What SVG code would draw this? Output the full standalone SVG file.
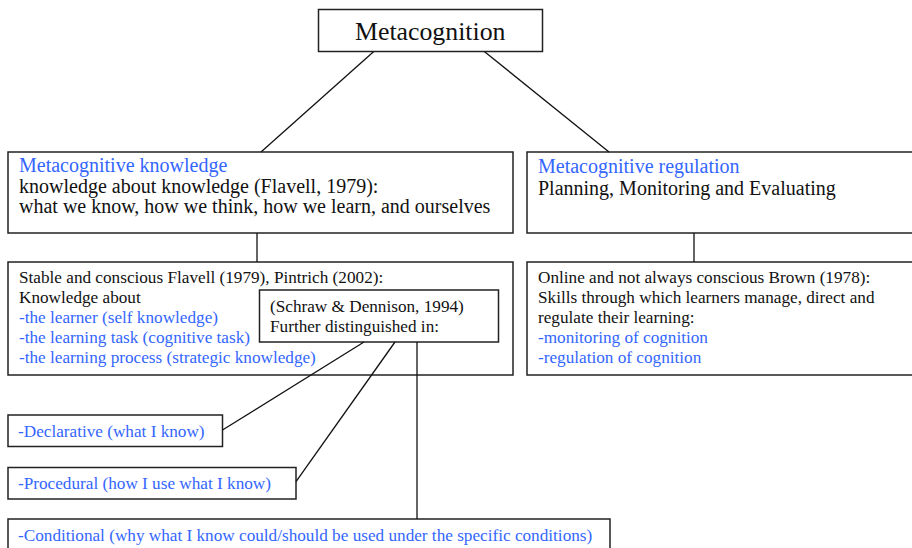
<svg xmlns="http://www.w3.org/2000/svg" width="912" height="548" viewBox="0 0 912 548">
<style>
.box{fill:#fff;stroke:#222;stroke-width:1.5}
.t{font-family:"Liberation Serif","Times New Roman",serif;fill:#111}
.b{fill:#3366ff}
.m{font-size:20px}
.s{font-size:17.2px}
.con line{stroke:#111;stroke-width:1.3}
</style>
<rect width="912" height="548" fill="#fff"/>
<g id="metacognition">
<rect class="box" x="318.5" y="9.5" width="224" height="42"/>
<text class="t" x="355" y="40" font-size="25.8">Metacognition</text>
</g>
<g id="mk">
<rect class="box" x="8" y="152" width="505" height="81"/>
<text class="t m" x="19" y="172"><tspan class="b">Metacognitive knowledge</tspan><tspan x="19" y="193">knowledge about knowledge (Flavell, 1979):</tspan><tspan x="19" y="213">what we know, how we think, how we learn, and ourselves</tspan></text>
</g>
<g id="mr">
<rect class="box" x="527" y="152" width="400" height="81"/>
<text class="t m" x="538" y="173"><tspan class="b">Metacognitive regulation</tspan><tspan x="538" y="195">Planning, Monitoring and Evaluating</tspan></text>
</g>
<g id="stable">
<rect class="box" x="8" y="262" width="505" height="113"/>
<text class="t s" x="19" y="283">Stable and conscious Flavell (1979), Pintrich (2002):<tspan x="19" y="303">Knowledge about</tspan><tspan class="b" x="19" y="323">-the learner (self knowledge)</tspan><tspan class="b" x="19" y="343">-the learning task (cognitive task)</tspan><tspan class="b" x="19" y="363">-the learning process (strategic knowledge)</tspan></text>
</g>
<g id="schraw">
<rect class="box" x="259.5" y="290" width="239" height="52"/>
<text class="t s" x="270" y="312">(Schraw &amp; Dennison, 1994)<tspan x="270" y="332">Further distinguished in:</tspan></text>
</g>
<g id="online">
<rect class="box" x="527" y="262" width="400" height="113"/>
<text class="t s" x="538" y="283">Online and not always conscious Brown (1978):<tspan x="538" y="303">Skills through which learners manage, direct and</tspan><tspan x="538" y="323">regulate their learning:</tspan><tspan class="b" x="538" y="343">-monitoring of cognition</tspan><tspan class="b" x="538" y="363">-regulation of cognition</tspan></text>
</g>
<g id="declarative">
<rect class="box" x="8" y="415" width="214.5" height="31.5"/>
<text class="t s b" x="18" y="437">-Declarative (what I know)</text>
</g>
<g id="procedural">
<rect class="box" x="8" y="467.5" width="288" height="31.5"/>
<text class="t s b" x="18" y="489">-Procedural (how I use what I know)</text>
</g>
<g id="conditional">
<rect class="box" x="8" y="519" width="602" height="40"/>
<text class="t s b" x="18" y="541">-Conditional (why what I know could/should be used under the specific conditions)</text>
</g>
<g class="con">
<line x1="373.5" y1="51.7" x2="261" y2="152"/>
<line x1="484.6" y1="51.7" x2="609" y2="152"/>
<line x1="257" y1="233" x2="257" y2="262"/>
<line x1="694" y1="233" x2="694" y2="262"/>
<line x1="364" y1="342" x2="222.5" y2="430"/>
<line x1="395" y1="342" x2="296" y2="481.7"/>
<line x1="417" y1="342" x2="417" y2="519"/>
</g>
</svg>
